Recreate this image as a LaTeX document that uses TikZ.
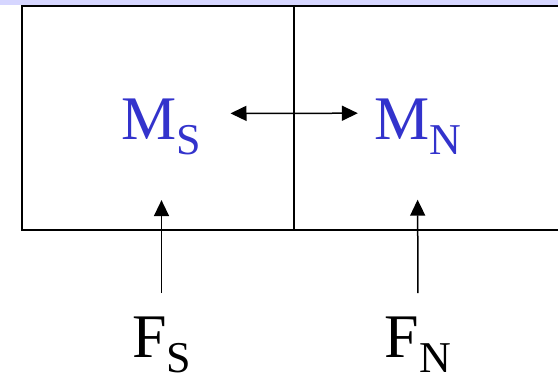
\documentclass[tikz,border=0pt]{standalone}
\usepackage{fontspec}
\setmainfont{Liberation Serif}
\usetikzlibrary{arrows.meta}

\definecolor{mblue}{RGB}{51,51,204}
\definecolor{barlav}{RGB}{214,214,255}
\newcommand{\bigsub}[2]{\fontsize{62}{70}\selectfont #1\raisebox{-15pt}{\fontsize{44}{50}\selectfont #2}}

\begin{document}
\begin{tikzpicture}[x=1pt,y=-1pt,
  lbl/.style={inner sep=0pt,anchor=base},
  flow/.style={line width=1.5pt,-{Triangle[length=16pt,width=15pt]}}]
\useasboundingbox (0,0) rectangle (558,379);
\fill[barlav] (0,0) rectangle (558,5);
% the two boxes
\draw[line width=2pt] (558,6) -- (22,6) -- (22,230) -- (558,230);
\draw[line width=2pt] (294,6) -- (294,230);
% labels
\node[lbl,mblue] (MS) at (161.5,140) {\bigsub{M}{S}};
\node[lbl,mblue] (MN) at (417.5,140) {\bigsub{M}{N}};
\node[lbl] (FS) at (161.5,358) {\bigsub{F}{S}};
\node[lbl] (FN) at (418,358) {\bigsub{F}{N}};
% arrows
\draw[flow,shorten <=24pt,shorten >=44.5pt] (FS.north) -- (MS.south);
\draw[flow,shorten <=24pt,shorten >=44.5pt] (FN.north) -- (MN.south);
\draw[flow,{Triangle[length=16pt,width=15pt]}-{Triangle[length=16pt,width=15pt]},shorten <=29pt,shorten >=16pt]
  ([yshift=14pt]MS.east) -- ([yshift=14pt]MN.west);
\end{tikzpicture}
\end{document}
